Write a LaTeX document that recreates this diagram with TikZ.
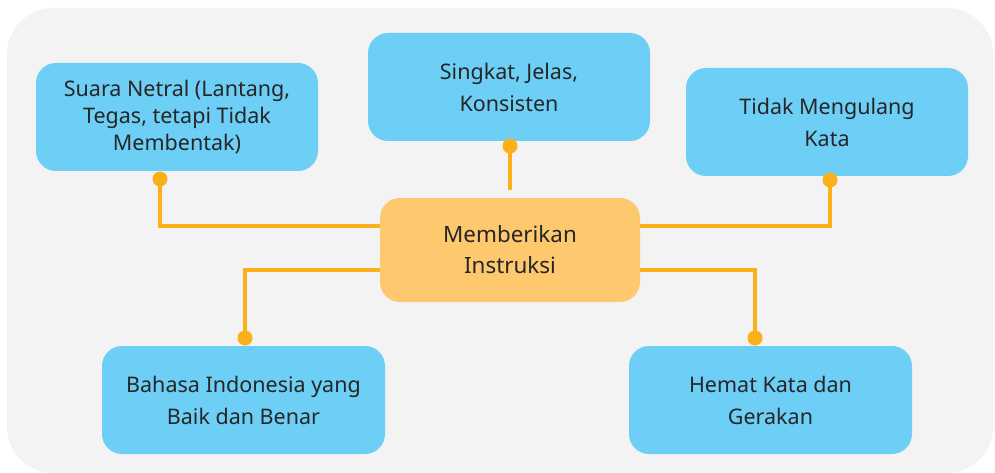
\documentclass[tikz,border=0pt]{standalone}
\usepackage{fontspec}
\setmainfont{Noto Sans}
\definecolor{bg}{HTML}{F3F3F3}
\definecolor{boxblue}{HTML}{6DCFF6}
\definecolor{boxorange}{HTML}{FEC86E}
\definecolor{linec}{HTML}{FBB01A}
\definecolor{txt}{HTML}{262626}
\begin{document}
\begin{tikzpicture}[x=1pt,y=-1pt,
  bluebox/.style={rectangle,rounded corners=20pt,fill=boxblue,text=txt,align=center,
    minimum width=282pt,minimum height=108pt,inner sep=0pt,
    font=\fontsize{21.5}{32}\selectfont},
  mainbox/.style={rectangle,rounded corners=20pt,fill=boxorange,text=txt,align=center,
    minimum width=260pt,minimum height=104pt,inner sep=0pt,
    font=\fontsize{22.4}{31}\selectfont},
  conn/.style={draw=linec,line width=4pt},
  dotc/.style={fill=linec}
]
\useasboundingbox (0,0) rectangle (995,473);
\fill[bg,rounded corners=46pt] (7,8) rectangle (993,473);

\node[mainbox] (c) at (510,250) {Memberikan\\Instruksi};
\node[bluebox,font=\fontsize{21.5}{27}\selectfont] (a) at (177,117) {Suara Netral (Lantang,\\Tegas, tetapi Tidak\\Membentak)};
\node[bluebox] (b) at (509,87) {Singkat, Jelas,\\Konsisten};
\node[bluebox] (t) at (827,122) {Tidak Mengulang\\Kata};
\node[bluebox,minimum width=283pt] (l) at (243.5,400) {Bahasa Indonesia yang\\Baik dan Benar};
\node[bluebox,minimum width=283pt] (r) at (770.5,400) {Hemat Kata dan\\Gerakan};

\coordinate (d1) at (160,179);
\coordinate (d2) at (510,146);
\coordinate (e2) at (510,190);
\coordinate (d3) at (830,180);
\coordinate (d4) at (245,338);
\coordinate (d5) at (755,338);

\draw[conn] (d1) |- ([yshift=24pt]c.west);
\draw[conn] (d2) -- (e2);
\draw[conn] (d3) |- ([yshift=24pt]c.east);
\draw[conn] (d4) |- ([yshift=-20pt]c.west);
\draw[conn] (d5) |- ([yshift=-20pt]c.east);

\foreach \d in {d1,d2,d3,d4,d5} \fill[dotc] (\d) circle (7.5pt);
\end{tikzpicture}
\end{document}
